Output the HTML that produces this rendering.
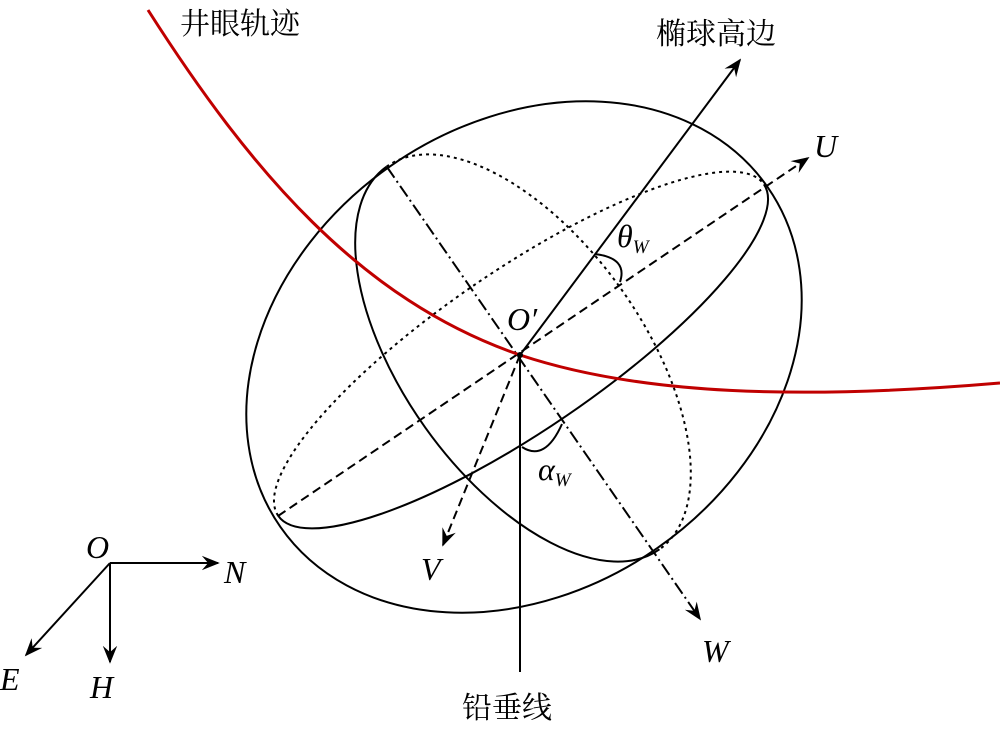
<!DOCTYPE html>
<html><head><meta charset="utf-8"><style>
html,body{margin:0;padding:0;background:#fff;}
svg{display:block;}
.it{font-family:"Liberation Serif",serif;font-style:italic;font-size:32px;fill:#000;}
.cn{font-family:"Liberation Serif","Noto Serif CJK SC",serif;font-size:30px;fill:#000;}
</style></head><body>
<svg width="1000" height="733" viewBox="0 0 1000 733" xmlns="http://www.w3.org/2000/svg">
<defs>
<marker id="ah2" viewBox="0 0 10 10" refX="9" refY="5" markerWidth="18" markerHeight="18" orient="auto" markerUnits="userSpaceOnUse">
<path d="M0,1 L10,5 L0,9 L3.5,5 Z" fill="#000"/></marker>
</defs>
<g fill="none" stroke="#000" stroke-width="2">
<!-- outer ellipse -->
<ellipse cx="524" cy="357" rx="297" ry="233" transform="rotate(-34.9 524 357)"/>
<!-- UV ellipse -->
<g transform="translate(521 350) rotate(-34.3)">
<path d="M-294 0 A294 80 0 0 0 294 0"/>
<path d="M-294 0 A294 80 0 0 1 294 0" stroke-dasharray="3,4"/>
</g>
<!-- W ellipse -->
<g transform="translate(523 358) rotate(54.5)">
<path d="M-235 0 A235 120 0 0 0 235 0"/>
<path d="M-235 0 A235 120 0 0 1 235 0" stroke-dasharray="3,4"/>
</g>
<!-- axes -->
<line x1="520" y1="355" x2="740" y2="60" marker-end="url(#ah2)"/>
<line x1="278" y1="516" x2="808" y2="158" stroke-dasharray="9,5" marker-end="url(#ah2)"/>
<line x1="520" y1="355" x2="443" y2="545" stroke-dasharray="9,5" marker-end="url(#ah2)"/>
<line x1="387" y1="167" x2="700" y2="619" stroke-dasharray="13,4,2,4" marker-end="url(#ah2)"/>
<line x1="520" y1="355" x2="520" y2="672"/>
<!-- angle arcs -->
<path d="M595 254 Q628 258 620 282"/>
<path d="M522 447 Q545 462 562 424"/>
<!-- red trajectory -->
<path d="M148 10 C250 170 360 300 520 355 C640 395 800 400 1000 383" stroke="#c00000" stroke-width="3"/>
<!-- coordinate system -->
<line x1="110" y1="563" x2="218" y2="563" marker-end="url(#ah2)"/>
<line x1="110" y1="563" x2="110" y2="662" marker-end="url(#ah2)"/>
<line x1="110" y1="563" x2="26" y2="655" marker-end="url(#ah2)"/>
</g>
<circle cx="520" cy="355" r="3" fill="#000"/>
<text class="cn" x="180" y="34">井眼轨迹</text>
<text class="cn" x="656" y="44">椭球高边</text>
<text class="cn" x="462" y="718">铅垂线</text>
<text class="it" x="814" y="157">U</text>
<text class="it" x="421" y="580">V</text>
<text class="it" x="702" y="662">W</text>
<text class="it" x="507" y="330">O′</text>
<text class="it" x="617" y="247">θ<tspan font-size="19" dy="6">W</tspan></text>
<text class="it" x="538" y="480">α<tspan font-size="19" dy="6">W</tspan></text>
<text class="it" x="86" y="558">O</text>
<text class="it" x="224" y="583">N</text>
<text class="it" x="90" y="698">H</text>
<text class="it" x="0" y="690">E</text>
</svg>
</body></html>
